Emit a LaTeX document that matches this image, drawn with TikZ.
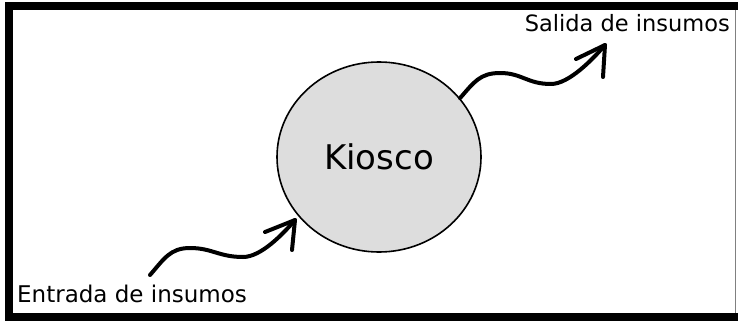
\documentclass[tikz,border=0pt]{standalone}
\usepackage{fontspec}
\setmainfont{DejaVu Sans}
\usetikzlibrary{shapes.geometric}
\definecolor{kfill}{RGB}{221,221,221}
\tikzset{
  frameband/.style={fill=black, draw=none},
  kiosk/.style={draw=black, line width=1.6pt, ellipse, fill=kfill,
    minimum width=204pt, minimum height=190pt, inner sep=0pt,
    font=\fontsize{34}{37}\selectfont},
  lbl/.style={inner sep=0pt, font=\fontsize{23}{27}\selectfont},
  wavy/.style={draw=black, line width=4pt, line cap=round, line join=round}
}
\begin{document}
\begin{tikzpicture}[x=1pt,y=-1pt]
\useasboundingbox (0,0) rectangle (738,321);
\fill[white] (0,0) rectangle (738,321);
% frame
\path[frameband] (5,2) rectangle (738,10);
\path[frameband] (5,2) rectangle (13,321);
\path[frameband] (5,313) rectangle (738,321);
\draw[gray, line width=1.5pt] (735.5,10) -- (735.5,313);
% circle
\node[kiosk] (k) at (379,157) {Kiosco};
% labels
\node[lbl, anchor=base west] (ent) at (17,302) {Entrada de insumos};
\node[lbl, anchor=base east, font=\fontsize{22.5}{26}\selectfont] (sal) at (730,32) {Salida de insumos};
% incoming arrow
\coordinate (inS) at (150,275);
\coordinate (inE) at (295,220);
\draw[wavy] (inS) .. controls +(14,-16) and +(-20,0) .. (190,248)
  .. controls +(22,0) and +(-24,0) .. (243,257)
  .. controls +(18,0) and +(-12,14) .. (inE);
\draw[wavy] (265,232) -- (inE) -- (292,250);
% outgoing arrow
\coordinate (outS) at (k.36);
\coordinate (outE) at (605,45);
\draw[wavy] (outS) .. controls +(14,-16) and +(-20,0) .. (500,73)
  .. controls +(22,0) and +(-24,0) .. (551,84)
  .. controls +(18,0) and +(-12,14) .. (outE);
\draw[wavy] (576,59) -- (outE) -- (603,77);
\end{tikzpicture}
\end{document}
